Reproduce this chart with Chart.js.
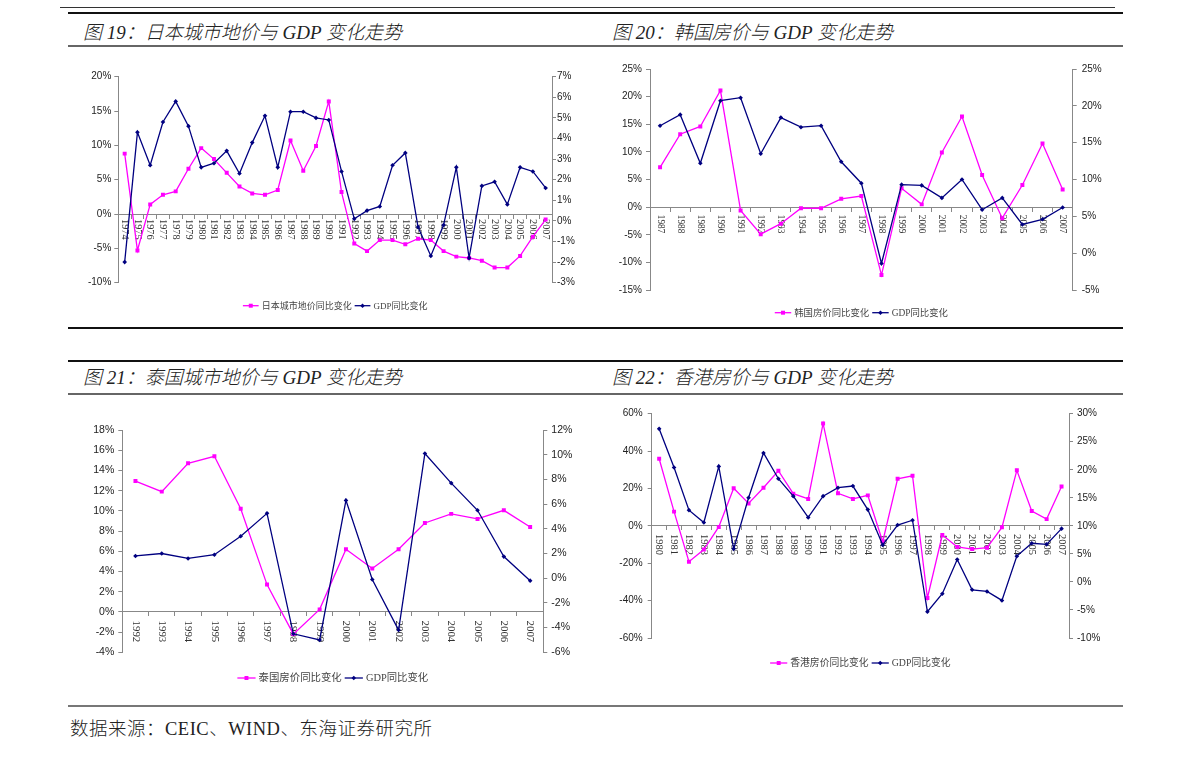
<!DOCTYPE html>
<html>
<head>
<meta charset="utf-8">
<script src="https://cdn.jsdelivr.net/npm/chart.js@4.4.1/dist/chart.umd.min.js"></script>
<style>
html, body { margin: 0; padding: 0; background: #fff; }
#pagina { position: relative; width: 1191px; height: 757px; overflow: hidden; }
.linha { position: absolute; left: 68px; width: 1055px; }
.titulo { position: absolute; font-style: italic; font-size: 19px; line-height: 22px; color: #222; white-space: nowrap; font-weight: 300;
          font-family: "Liberation Serif", "Noto Sans CJK SC", serif; }
.fonte { position: absolute; left: 70px; top: 718px; font-size: 18.5px; line-height: 22px; color: #222; white-space: nowrap;
         letter-spacing: 0.5px; font-weight: 300; font-family: "Liberation Serif", "Noto Sans CJK SC", serif; }
canvas { position: absolute; }
</style>
</head>
<body>
<div id="pagina">
    <div class="linha" style="left:60px;width:1055px;top:7px;border-top:1px solid #333"></div>
    <div class="linha" style="top:12px;border-top:2px solid #111"></div>
    <div class="titulo" style="left:83px;top:22px">图 19：日本城市地价与 GDP 变化走势</div>
    <div class="titulo" style="left:612px;top:22px">图 20：韩国房价与 GDP 变化走势</div>
    <div class="linha" style="top:45px;border-top:2px solid #666"></div>

    <canvas id="grafico1" width="530" height="275" style="left:60px;top:50px"></canvas>
    <canvas id="grafico2" width="528" height="275" style="left:595px;top:50px"></canvas>

    <div class="linha" style="top:327px;border-top:2px solid #111"></div>
    <div class="linha" style="top:360px;border-top:2px solid #111"></div>
    <div class="titulo" style="left:83px;top:367px">图 21：泰国城市地价与 GDP 变化走势</div>
    <div class="titulo" style="left:612px;top:367px">图 22：香港房价与 GDP 变化走势</div>
    <div class="linha" style="top:393px;border-top:2px solid #666"></div>

    <canvas id="grafico3" width="530" height="300" style="left:60px;top:400px"></canvas>
    <canvas id="grafico4" width="528" height="300" style="left:595px;top:400px"></canvas>

    <div class="linha" style="top:705px;border-top:2px solid #777"></div>
    <div class="fonte">数据来源：CEIC、WIND、东海证券研究所</div>
</div>

<script>
// ---- dados ----
const jpAnos = ['1974','1975','1976','1977','1978','1979','1980','1981','1982','1983','1984','1985','1986','1987','1988','1989','1990',
                '1991','1992','1993','1994','1995','1996','1997','1998','1999','2000','2001','2002','2003','2004','2005','2006','2007'];
const jpTerreno = [8.8, -5.3, 1.4, 2.8, 3.3, 6.6, 9.6, 8.0, 6.0, 4.0, 3.0, 2.8, 3.5, 10.7, 6.3, 9.9, 16.4,
                   3.2, -4.3, -5.4, -3.8, -3.8, -4.4, -3.6, -3.8, -5.4, -6.2, -6.4, -6.8, -7.8, -7.8, -6.1, -3.3, -0.8];
const jpPib = [-2.0, 4.3, 2.7, 4.8, 5.8, 4.6, 2.6, 2.8, 3.4, 2.3, 3.8, 5.1, 2.6, 5.3, 5.3, 5.0, 4.9,
               2.4, 0.1, 0.5, 0.7, 2.7, 3.3, -0.3, -1.7, -0.2, 2.6, -1.8, 1.7, 1.9, 0.8, 2.6, 2.4, 1.6];

const krAnos = ['1987','1988','1989','1990','1991','1992','1993','1994','1995','1996','1997',
                '1998','1999','2000','2001','2002','2003','2004','2005','2006','2007'];
const krCasa = [7.2, 13.2, 14.6, 21.1, -0.6, -4.9, -3.0, -0.2, -0.2, 1.5, 2.0, -12.3, 3.4, 0.5, 9.9, 16.4, 5.8, -2.0, 4.0, 11.5, 3.2];
const krPib = [17.3, 18.8, 12.2, 20.7, 21.1, 13.5, 18.4, 17.1, 17.3, 12.4, 9.5, -1.4, 9.3, 9.2, 7.5, 10.0, 5.9, 7.5, 3.9, 4.6, 6.2];

const thAnos = ['1992','1993','1994','1995','1996','1997','1998','1999','2000','2001','2002','2003','2004','2005','2006','2007'];
const thCasa = [12.95, 11.9, 14.7, 15.4, 10.2, 2.7, -2.2, 0.25, 6.2, 4.3, 6.2, 8.8, 9.7, 9.2, 10.05, 8.4];
const thPib = [1.8, 2.0, 1.6, 1.9, 3.4, 5.25, -4.5, -5.0, 6.3, -0.1, -4.2, 10.1, 7.7, 5.5, 1.75, -0.2];

const hkAnos = ['1980','1981','1982','1983','1984','1985','1986','1987','1988','1989','1990','1991','1992','1993',
                '1994','1995','1996','1997','1998','1999','2000','2001','2002','2003','2004','2005','2006','2007'];
const hkCasa = [35.9, 7.6, -19.2, -12.7, -0.6, 20.1, 12.0, 20.4, 29.5, 17.2, 14.4, 54.8, 17.4, 14.4,
                16.3, -8.5, 25.2, 26.8, -38.6, -4.9, -11.3, -12.4, -11.7, -0.8, 29.7, 7.9, 3.6, 21.1];
const hkPib = [27.3, 20.4, 12.8, 10.6, 20.6, 5.9, 15.0, 23.0, 18.4, 15.3, 11.5, 15.3, 16.8, 17.1,
               12.9, 6.6, 10.15, 11.0, -5.3, -2.1, 4.0, -1.4, -1.7, -3.3, 4.6, 6.9, 6.7, 9.5];

// eixos: [min, max, passo]
const jpEixoEsq = [-10, 20, 5],  jpEixoDir = [-3, 7, 1];
const krEixoEsq = [-15, 25, 5],  krEixoDir = [-5, 25, 5];
const thEixoEsq = [-4, 18, 2],   thEixoDir = [-6, 12, 2];
const hkEixoEsq = [-60, 60, 20], hkEixoDir = [-10, 30, 5];

const ROSA = '#ff00ff';
const AZUL = '#000080';

// anos girados e legenda no estilo do Excel
const rotulosPlugin = {
    id: 'rotulos',
    beforeDatasetsDraw(chart, args, opts) {
        const ctx = chart.ctx;
        const xs = chart.scales.x;
        const y0 = chart.scales.y.getPixelForValue(0);
        ctx.save();
        ctx.font = opts.tamAno + 'px "Liberation Serif"';
        ctx.fillStyle = '#333';
        ctx.textAlign = 'left';
        ctx.textBaseline = 'middle';
        chart.data.labels.forEach((ano, i) => {
            ctx.save();
            ctx.translate(xs.getPixelForValue(i), y0 + opts.folga);
            ctx.rotate(Math.PI / 2);
            ctx.fillText(ano, 0, 0);
            ctx.restore();
        });
        ctx.restore();
    },
    afterDraw(chart, args, opts) {
        const ctx = chart.ctx;
        const area = chart.chartArea;
        ctx.save();
        ctx.font = opts.tamLegenda + 'px "Liberation Serif", "Noto Sans CJK SC"';
        const seg = opts.tamLegenda * 1.75, gap = 3, esp = 3;
        const itens = chart.data.datasets.map(ds => ({ ds: ds, w: ctx.measureText(ds.label).width }));
        const total = itens.reduce((s, it) => s + seg + gap + it.w, 0) + esp * (itens.length - 1);
        let x = (area.left + area.right) / 2 - total / 2;
        const y = opts.legendaY;
        itens.forEach(it => {
            const cor = it.ds.borderColor;
            ctx.strokeStyle = cor;
            ctx.fillStyle = cor;
            ctx.lineWidth = 1.3;
            ctx.beginPath();
            ctx.moveTo(x, y);
            ctx.lineTo(x + seg, y);
            ctx.stroke();
            Chart.helpers.drawPoint(ctx, { pointStyle: it.ds.pointStyle, radius: it.ds.pointRadius, borderWidth: 0, rotation: 0 }, x + seg / 2, y);
            ctx.fillStyle = '#444';
            ctx.textAlign = 'left';
            ctx.textBaseline = 'middle';
            ctx.fillText(it.ds.label, x + seg + gap, y + 0.5);
            x += seg + gap + it.w + esp;
        });
        ctx.restore();
    }
};

function eixoY(faixa, lado, largura, tamFonte, pad) {
    return {
        type: 'linear',
        position: lado,
        min: faixa[0],
        max: faixa[1],
        afterFit: (scale) => { scale.width = largura; },
        grid: { drawOnChartArea: false, color: '#888', tickLength: 4 },
        border: { color: '#888' },
        ticks: {
            stepSize: faixa[2],
            padding: pad,
            color: '#222',
            font: { family: 'Liberation Sans', size: tamFonte },
            callback: (v) => v + '%'
        }
    };
}

function montarGrafico(id, cfg) {
    const caixa = cfg.caixa, area = cfg.area;
    const ctx = document.getElementById(id).getContext('2d');
    return new Chart(ctx, {
        type: 'line',
        data: {
            labels: cfg.anos,
            datasets: [
                {
                    label: cfg.nomeSerie,
                    data: cfg.serie,
                    yAxisID: 'y',
                    borderColor: ROSA,
                    backgroundColor: ROSA,
                    borderWidth: 1.3,
                    pointStyle: 'rect',
                    pointRadius: 2.8,
                    pointBorderWidth: 0,
                    pointBackgroundColor: ROSA,
                    tension: 0,
                    order: 1
                },
                {
                    label: 'GDP同比变化',
                    data: cfg.pib,
                    yAxisID: 'y1',
                    borderColor: AZUL,
                    backgroundColor: AZUL,
                    borderWidth: 1.3,
                    pointStyle: 'rectRot',
                    pointRadius: 2.3,
                    pointBorderWidth: 0,
                    pointBackgroundColor: AZUL,
                    tension: 0,
                    order: 0
                }
            ]
        },
        options: {
            responsive: false,
            animation: false,
            events: [],
            layout: {
                padding: { left: 0, right: 0, top: area.t - caixa.y, bottom: caixa.y + caixa.h - area.b }
            },
            scales: {
                x: {
                    type: 'category',
                    position: { y: 0 },
                    offset: true,
                    grid: { drawOnChartArea: false, offset: true, color: '#888', tickLength: 4 },
                    border: { color: '#888' },
                    ticks: { display: false }
                },
                y: eixoY(cfg.eixoEsq, 'left', area.l - caixa.x, cfg.tamTick, cfg.padEsq),
                y1: eixoY(cfg.eixoDir, 'right', caixa.x + caixa.w - area.r, cfg.tamTick, cfg.padDir)
            },
            plugins: {
                legend: { display: false },
                tooltip: { enabled: false },
                rotulos: {
                    tamAno: cfg.tamAno,
                    folga: cfg.folga,
                    tamLegenda: cfg.tamLegenda,
                    legendaY: cfg.legendaY - caixa.y
                }
            }
        },
        plugins: [rotulosPlugin]
    });
}

montarGrafico('grafico1', {
    caixa: { x: 60, y: 50, w: 530, h: 275 },
    area: { l: 118.3, t: 76.7, r: 552, b: 282.7 },
    anos: jpAnos, serie: jpTerreno, pib: jpPib, nomeSerie: '日本城市地价同比变化',
    eixoEsq: jpEixoEsq, eixoDir: jpEixoDir,
    tamTick: 10, padEsq: 3, padDir: 1, tamAno: 10.3, folga: 5, tamLegenda: 9, legendaY: 305.7
});

montarGrafico('grafico2', {
    caixa: { x: 595, y: 50, w: 528, h: 275 },
    area: { l: 650, t: 69, r: 1072.7, b: 290 },
    anos: krAnos, serie: krCasa, pib: krPib, nomeSerie: '韩国房价同比变化',
    eixoEsq: krEixoEsq, eixoDir: krEixoDir,
    tamTick: 10, padEsq: 4, padDir: 5, tamAno: 9.3, folga: 7.7, tamLegenda: 9.4, legendaY: 312.7
});

montarGrafico('grafico3', {
    caixa: { x: 60, y: 400, w: 530, h: 300 },
    area: { l: 122.3, t: 430, r: 543.3, b: 652.3 },
    anos: thAnos, serie: thCasa, pib: thPib, nomeSerie: '泰国房价同比变化',
    eixoEsq: thEixoEsq, eixoDir: thEixoDir,
    tamTick: 10.5, padEsq: 4, padDir: 4, tamAno: 10.8, folga: 8.7, tamLegenda: 10.4, legendaY: 678
});

montarGrafico('grafico4', {
    caixa: { x: 595, y: 400, w: 528, h: 300 },
    area: { l: 651.7, t: 413.7, r: 1069, b: 638 },
    anos: hkAnos, serie: hkCasa, pib: hkPib, nomeSerie: '香港房价同比变化',
    eixoEsq: hkEixoEsq, eixoDir: hkEixoDir,
    tamTick: 10, padEsq: 5, padDir: 4, tamAno: 10.5, folga: 8.2, tamLegenda: 9.8, legendaY: 663
});
</script>
</body>
</html>
